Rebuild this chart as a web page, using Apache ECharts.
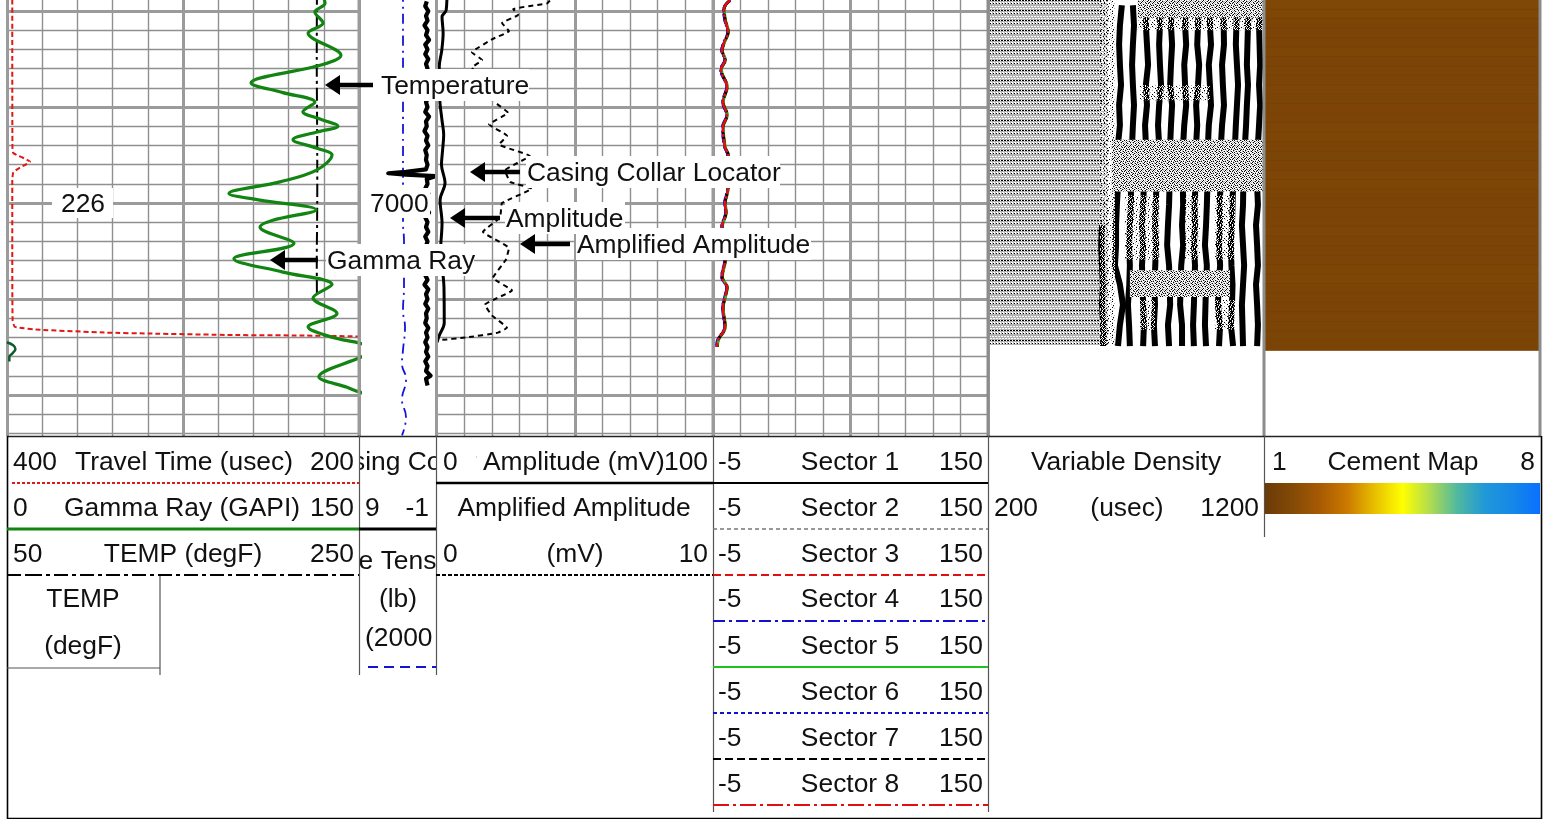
<!DOCTYPE html>
<html><head><meta charset="utf-8">
<style>html,body{margin:0;padding:0;background:#fff}#c{width:1554px;height:819px}</style>
<script src="https://cdn.jsdelivr.net/npm/echarts@6/dist/echarts.min.js"></script>
</head><body><div id="c"></div>
<script>
// ---------- data: [value, depth(ft)] ----------
const gammaRay=[[134,6978],[135.5,6979.2],[131.2,6980.1],[134.7,6981.25],[128.3,6982.3],[142.3,6984.6],[134.2,6985.6],[104,6987.5],[117.6,6988.5],[131.2,6989.5],[126.1,6990.5],[132.1,6991.15],[141,6992],[132.1,6992.6],[121.9,6993.4],[132.1,6994.3],[138.5,6995],[131.7,6996.6],[116.3,6997.8],[94.6,6999],[107.8,6999.7],[131.7,7000.7],[113.3,7001.8],[107.8,7002.5],[122.3,7004.2],[96.7,7005.8],[117.6,7007.2],[138.5,7008.5],[130.4,7009.9],[140.6,7011.5],[128.3,7012.9],[138.9,7014],[150.4,7014.6],[158,7015.3],[150.4,7016.1],[132.9,7018.1],[144.9,7019.2],[150.4,7019.7],[158,7020.3]];
const gammaWrap=[[0,7014.5],[2.5,7014.8],[3.6,7015.2],[2.2,7015.7],[1,7016],[1,7016.5]];
const travelTime=[[397,6978],[397,6985],[396.9,6994.2],[396.4,6994.8],[386.9,6995.7],[392.6,6996.3],[396.4,6996.8],[397,6997.6],[397,7005],[396.8,7012.2],[395.5,7012.9],[381.3,7013.2],[343.2,7013.5],[318.8,7013.6],[271.6,7013.75],[233.6,7013.8],[199.5,7013.9]];
const temperature=[[226.1,6978],[226,6985],[226.2,6992],[226.3,6998],[226.2,7002],[226,7006],[226.1,7009.8]];
const tension=[[857,6978],[857,6990],[857,7002],[831,7004],[831,7008.7],[857,7011.2],[805,7012.9],[857,7015.3],[883,7016.7],[779,7018.4],[883,7020.5],[779,7022.3],[883,7024.2]];
const ccl=[[0.2,6979],[0.4,6979.5],[0,6980],[0.3,6980.5],[0.1,6981],[0.5,6981.5],[0.1,6982],[0.3,6982.5],[-0.1,6983],[0.4,6983.5],[0.1,6984],[0.4,6984.5],[0,6985],[0.3,6985.5],[0.1,6986],[0.4,6986.5],[0,6987],[0.2,6987.5],[0.1,6988],[0.4,6988.5],[0,6989],[0.3,6989.5],[0.1,6990],[0.4,6990.5],[-0.1,6991],[0.3,6991.5],[0.2,6992],[0.5,6992.5],[0.1,6993],[0.3,6993.5],[0,6994],[0.4,6994.5],[0.2,6995],[0.3,6995.5],[0.1,6996],[0.3,6996.5],[2.9,6996.75],[5.2,6996.9],[2.9,6997.05],[-0.9,6997.2],[0.2,6997.5],[0.1,6998],[0.4,6998.5],[0,6999],[0.3,6999.5],[0.1,7000],[0.3,7000.5],[-0.1,7001],[0.4,7001.5],[0.1,7002],[0.3,7002.5],[0,7003],[0.4,7003.5],[0.1,7004],[0.3,7004.5],[0,7005],[0.4,7005.5],[0.1,7006],[0.3,7006.5],[0,7007],[0.4,7007.5],[0.1,7008],[0.5,7008.5],[0,7009],[0.3,7009.5],[0.1,7010],[0.4,7010.5],[0,7011],[0.3,7011.5],[0.2,7012],[0.4,7012.5],[0,7013],[0.3,7013.5],[0.1,7014],[0.4,7014.5],[0.1,7015],[0.3,7015.5],[0,7016],[0.4,7016.5],[0.1,7017],[0.3,7017.5],[-0.3,7018],[0.3,7018.3],[0.1,7019]];
const amplitude=[[3.8,6978],[3.5,6979.9],[2,6980.6],[2.4,6982.3],[1.9,6984.1],[1,6985.8],[1.2,6989.3],[2,6991.4],[2.6,6992.9],[2.2,6994.5],[1.8,6996],[3.1,6997.9],[1.3,6999.7],[2,7002.1],[1.5,7004.9],[2,7006.5],[2.7,7008.8],[2.8,7012.5],[1,7013.8],[0.2,7014.5]];
const amplified=[[4.1,6978.9],[4,6979.2],[2.77,6979.8],[2.95,6980.4],[2.37,6981.25],[2.62,6982.1],[2.04,6982.9],[1.28,6984.3],[1.65,6985.1],[1.28,6985.9],[1.93,6987.7],[2.12,6989.5],[2.59,6990.6],[1.9,6991.8],[2.55,6993],[2.26,6993.9],[3.38,6995.1],[2.48,6996.6],[2.66,6997.8],[3.45,6998.5],[2.37,7000],[2.3,7001.5],[1.68,7003],[2.62,7004.7],[2.51,7005.9],[2.04,7007.8],[2.73,7009.1],[1.75,7010.6],[2,7011.7],[2.55,7013],[2.22,7013.5],[1.1,7014],[0.05,7014.3]];
const sectorDepths=[6978.9,6979.8,6980.9,6982.2,6983.3,6984.1,6985.1,6986.1,6987.9,6989.5,6990.8,6992.1,6994.2,6995,6996.8,6998.4,7000,7001,7002.5,7004.2,7005.9,7007.7,7008.8,7009.8,7010.9,7012.9,7014.3,7015];
const sector1=[4.4,1.1,1.9,3.4,1.3,0.2,1.7,-0.4,2.8,0.7,2.8,0.7,1.7,3.4,3.1,3.4,1.9,2.2,0.2,1.4,1.9,0.2,2.8,1.9,0.7,1.7,-2.1,-2.6];
const sector2=[4.5,1.3,1.7,3.3,1.4,0.3,1.6,-0.3,2.7,0.8,2.7,0.8,1.9,3.3,2.9,3.3,1.7,2.1,0.3,1.6,1.7,0.3,2.7,1.7,0.8,1.9,-2,-2.5];
const sector3=[4.7,1.1,1.8,3.6,1.1,0,1.9,-0.6,3,0.5,3,0.5,1.7,3.6,3.1,3.6,1.9,2.4,0,1.4,1.9,0,3,1.9,0.5,1.7,-2.3,-2.8];
const sector4=[4.8,0.9,1.5,3.2,0.9,-0.2,1.5,-0.8,2.6,0.3,2.6,0.3,1.5,3.2,2.7,3.2,1.5,2,-0.2,1.2,1.5,-0.2,2.6,1.5,0.3,1.5,-2.6,-3.1];
const sector5=[4.3,1.5,2.1,3.8,1.5,0.4,2.1,-0.2,3.2,0.9,3.2,0.9,2.1,3.8,3.3,3.8,2.1,2.6,0.4,1.8,2.1,0.4,3.2,2.1,0.9,2.1,-1.9,-2.4];
const sector6=[4.9,1,1.6,3.3,1,-0.1,1.6,-0.7,2.7,0.4,2.7,0.4,1.6,3.3,2.8,3.3,1.6,2.1,-0.1,1.3,1.6,-0.1,2.7,1.6,0.4,1.6,-2.4,-2.9];
const sector7=[4.5,1.3,1.9,3.6,1.3,0.2,1.9,-0.4,3,0.7,3,0.7,1.9,3.6,3.1,3.6,1.9,2.4,0.2,1.6,1.9,0.2,3,1.9,0.7,1.9,-2.1,-2.6];
const sector8=[4.6,1.2,1.8,3.5,1.2,0.1,1.8,-0.5,2.9,0.6,2.9,0.6,1.8,3.5,3,3.5,1.8,2.3,0.1,1.5,1.8,0.1,2.9,1.8,0.6,1.8,-2.2,-2.7];
// Variable density: black wave fronts, usec per depth knot
const vdlDepths=[6979.4,6981.5,6983.5,6985.6,6987.7,6989.8,6991.9,6993.9,6996,6998.1,7000.2,7002.3,7004.4,7006.5,7008.5,7010.6,7012.7,7014.9];
const vdlFront0=[null,null,null,null,null,null,null,null,null,null,null,613,610,613,616,613,617,617];
const vdlFront1=[685,678,675,678,682,675,678,671,667,671,667,664,664,660,678,689,678,671];
const vdlFront2=[725,729,725,722,725,729,725,722,720,718,718,714,711,714,712,707,711,714];
const vdlFront3=[776,772,776,780,772,776,769,772,768,765,762,758,762,758,760,762,765,762];
const vdlFront4=[827,823,820,823,827,820,816,820,815,810,808,805,809,806,803,805,801,805];
const vdlFront5=[866,863,867,863,860,867,863,860,862,858,856,852,849,856,858,860,852,856];
const vdlFront6=[916,914,918,911,914,918,911,907,910,906,907,903,907,900,898,896,903,903];
const vdlFront7=[964,961,958,965,961,954,958,954,956,952,948,950,946,950,948,946,943,946];
const vdlFront8=[1006,1004,1008,1000,1004,1008,1000,997,999,995,993,990,986,993,990,988,986,990];
const vdlFront9=[1051,1054,1055,1048,1051,1055,1048,1044,1046,1042,1040,1041,1037,1041,1036,1033,1041,1037];
const vdlFront10=[1102,1100,1098,1102,1106,1102,1098,1095,1092,1088,1086,1084,1080,1082,1086,1084,1080,1088];
const vdlFront11=[1146,1142,1140,1138,1142,1138,1135,1131,1127,1125,1124,1120,1124,1128,1124,1120,1122,1124];
const vdlFront12=[1186,1182,1184,1186,1182,1186,1182,1178,1177,1175,1178,1171,1175,1178,1171,1175,1178,1175];
// [usecFrom, usecTo, depthFrom, depthTo]
const vdlGrayZone=[[200,635,6978,7014.9]];
const vdlNoise=[[606,660,6978,7014.9],[743,1200,6980.7,6982],[751,1004,6987.7,6989.3],[696,823,6999.2,7005.9],[914,968,6999.2,7005.9],[1022,1095,6999.2,7005.9],[751,805,7010.1,7013.2],[1022,1095,7010.1,7013.2]];
const vdlDenseNoise=[[743,1200,6978,6980.7],[649,1200,6993.4,6998.8],[714,1077,7007,7009.8]];
const cementDepths=['6979','6980','6981','6982','6983','6984','6985','6986','6987','6988','6989','6990','6991','6992','6993','6994','6995','6996','6997','6998','6999','7000','7001','7002','7003','7004','7005','7006','7007','7008','7009','7010','7011','7012','7013','7014','7015'];
const cementValues=[1.6,1.56,1.5,1.48,1.5,1.52,1.5,1.46,1.5,1.52,1.48,1.5,1.5,1.54,1.52,1.5,1.48,1.5,1.52,1.54,1.5,1.48,1.5,1.5,1.52,1.5,1.48,1.5,1.54,1.52,1.5,1.48,1.5,1.5,1.48,1.46,1.44];
const cementScale=['#6b3a08','#834a06','#a85a03','#cc7a00','#e8c000','#ffff00','#b0dc50','#50b8a0','#2098d8','#1588e8','#0a70ff'];
const lightDepths=[6980,6982,6984,6986,6988,6990,6992,6994,6996,6998,7000,7002,7004,7006,7008,7010,7012,7014,7016,7018,7020,7022,7024];
const heavyDepths=[6980,6990,7000,7010,7020];
const heavyDivisions=[0,5,10];

// ---------- layout ----------
const H=436, DMIN=6978.85, DMAX=7024.27;
const font='26.4px "Liberation Sans", Arial, sans-serif';
const grids=[
 {left:7,top:0,width:352,height:H},
 {left:359,top:0,width:77,height:H},
 {left:436.5,top:0,width:276.5,height:H},
 {left:713,top:0,width:275,height:H},
 {left:988,top:0,width:276,height:345},
 {left:1265,top:0,width:275,height:350}
];
const gridLine={show:true,lineStyle:{color:'#8f8f8f',width:1.4}};
const divAxis=g=>({type:'value',gridIndex:g,min:0,max:10,interval:1,axisLine:{show:false},axisTick:{show:false},axisLabel:{show:false},splitLine:gridLine});
const hidX=(g,min,max,inv)=>({type:'value',gridIndex:g,min,max,inverse:!!inv,show:false,splitLine:{show:false}});
const xAxes=[divAxis(0),hidX(0,0,150),hidX(0,200,400,true),hidX(0,50,250),
 hidX(1,-1,9,true),hidX(1,0,2000,true),
 divAxis(2),hidX(2,0,100),hidX(2,0,10),
 divAxis(3),hidX(3,-5,150),
 hidX(4,200,1200),
 {type:'category',gridIndex:5,data:['Cement Map'],show:false}];
const depthAxis=(g,max)=>({type:'value',gridIndex:g,min:DMIN,max:max||DMAX,inverse:true,show:false,splitLine:{show:false}});
const yAxes=[depthAxis(0),depthAxis(1),depthAxis(2),depthAxis(3),depthAxis(4,DMIN+345*(DMAX-DMIN)/H),
 {type:'category',gridIndex:5,data:cementDepths,inverse:true,show:false}];

// ---------- series ----------
const curve=(name,data,x,y,color,width,dash,smooth,z)=>({name,type:'line',data,xAxisIndex:x,yAxisIndex:y,showSymbol:false,symbol:'none',silent:true,smooth:smooth===undefined?0.35:smooth,z:z||5,clip:true,lineStyle:{color,width,type:dash||'solid',cap:'butt',join:'round'}});
const heavy=(x,y)=>({type:'line',data:[],xAxisIndex:x,yAxisIndex:y,silent:true,z:1,symbol:'none',
 markLine:{silent:true,symbol:'none',animation:false,label:{show:false},lineStyle:{color:'#9b9b9b',width:3,type:'solid'},
  data:lightDepths.map(d=>({yAxis:d,lineStyle:{color:'#8f8f8f',width:1.4,type:'solid'}})).concat(heavyDepths.map(d=>({yAxis:d})),heavyDivisions.map(d=>({xAxis:d})))}});
const bitmapPattern=(rows,map)=>{const c=document.createElement('canvas');c.width=rows[0].length;c.height=rows.length;const t=c.getContext('2d');
 rows.forEach((r,j)=>[...r].forEach((ch,i)=>{if(map[ch]){t.fillStyle=map[ch];t.fillRect(i,j,1,1);}}));return {image:c,repeat:'repeat'};};
const colors={k:'#000',w:'#fff',g:'#b4b4b4'};
const grayTile=bitmapPattern(['kwk','ggg','wwg','kwg','ggg','ggg','wgw','ggg','wwg','ggg'],colors);
const noiseTile=bitmapPattern(['w.k.w.g..w.k','.w.g.w..k.w.','k.w..w.g.w.w','.g.w.k..w.g.','w..k.w.g..w.','.w.w...w.k.w','g.w.k.w..g..','.w..g.w.k.w.','w.k.w...w.g.','..w.g.k.w..w','k.w...w.g.w.','.g.w.w..k.w.'],colors);
const denseTile=bitmapPattern(['wgwkwgwwkwgw','gwkwgwgkwwkg','wkwgwkwwgkwg','kwgwwgkwkwgw','wgwkgwwgwwkw','gkwwgkwkwgwk','wwgwkwgwwkgw','kwgkwwgkwgwg','wgwwkgwwkwkw','gkwgwwkgwgwg','wwkwgkwwgwkw','gwgwwgwkwgwk'],colors);
const rectSeries=(data,fill,z)=>({type:'custom',xAxisIndex:11,yAxisIndex:4,silent:true,z,data,encode:{x:[0,1],y:[2,3]},clip:true,
 renderItem:(p,api)=>{const a=api.coord([api.value(0),api.value(2)]),b=api.coord([api.value(1),api.value(3)]);
  return {type:'rect',shape:{x:a[0],y:a[1],width:b[0]-a[0],height:b[1]-a[1]},style:{fill}};}});
const vdlFronts=[vdlFront0,vdlFront1,vdlFront2,vdlFront3,vdlFront4,vdlFront5,vdlFront6,vdlFront7,vdlFront8,vdlFront9,vdlFront10,vdlFront11,vdlFront12];
const sectors=[[sector1,'#000','solid'],[sector2,'#777','dashed'],[sector3,'#e01010','dashed'],[sector4,'#1010d0',[8,3,2,3]],[sector5,'#20c020','solid'],[sector6,'#1010d0','dashed'],[sector7,'#000','dashed'],[sector8,'#e01010',[14,2,3,2]]];
const series=[
 heavy(0,0),heavy(6,2),heavy(9,3),
 curve('Travel Time',travelTime,2,0,'#e01818',2,[5,3],0.15),
 curve('TEMP',temperature,3,0,'#000',2,[13,4,3,4]),
 curve('Gamma Ray',gammaRay,1,0,'#118411',3.2),
 curve('Gamma Ray wrap',gammaWrap,1,0,'#0c5c2c',2.5),
 curve('Line Tension',tension,5,1,'#1414d8',1.8,[10,5,2,5],0.5),
 curve('Casing Collar',ccl,4,1,'#000',4.2,'solid',0),
 curve('Amplitude',amplitude,7,2,'#000',3),
 curve('Amplified Amplitude',amplified,8,2,'#000',2,[5,4],0.1),
 ...sectors.map((s,i)=>curve('Sector '+(i+1),s[0].map((v,k)=>[v,sectorDepths[k]]),10,3,s[1],2.6,s[2],0.4,6+i)),
 rectSeries(vdlGrayZone,grayTile,2),
 ...vdlFronts.map((f,i)=>curve('VDL '+i,f.map((v,k)=>[v,vdlDepths[k]]),11,4,'#000',6,'solid',0,3)),
 rectSeries(vdlNoise,noiseTile,4),
 rectSeries(vdlDenseNoise,denseTile,4),
 {type:'heatmap',name:'Cement Map',xAxisIndex:12,yAxisIndex:5,silent:true,progressive:0,
  itemStyle:{borderColor:'#7b4100',borderWidth:1},
  data:cementValues.map((v,i)=>[0,i,v]),emphasis:{disabled:true}}
];

// ---------- graphics: header table, annotations ----------
const g=[];
const line=(x1,y1,x2,y2,stroke,lineWidth,lineDash,z)=>g.push({type:'line',silent:true,z:z||30,shape:{x1,y1,x2,y2},style:{stroke,lineWidth,lineDash:lineDash||null,fill:null}});
const text=(t,x,y,align,z)=>g.push({type:'text',silent:true,z:z||40,style:{text:t,x,y:y+1.5,font,fill:'#111',align:align||'left',verticalAlign:'middle',textAlign:align||'left',textVerticalAlign:'middle'}});
const white=(x,y,w,h,z)=>g.push({type:'rect',silent:true,z:z||20,shape:{x,y,width:w,height:h},style:{fill:'#fff',stroke:null}});
// clipped centre column titles
text('Casing Collar',397.5,461,'center',10); text('Line Tension',397.5,560,'center',10);
white(300,442,59,38,12); white(436.5,442,40,38,12); white(300,540,59,32,12); white(436.5,540,40,32,12);
// track frame
[988,1264,1540].forEach(x=>line(x,0,x,436,'#8c8c8c',3,null,25));
[359,436.5,713].forEach(x=>line(x,0,x,436,'#9b9b9b',3,null,25));
// table rules
line(7,436.5,1541,436.5,'#222',1.5);
line(7.5,436,7.5,819,'#000',1.6); line(1541.5,436,1541.5,819,'#000',1.6); line(7,818.5,1542,818.5,'#000',1.5);
[[359.5,675],[436.5,675],[713.5,812],[988.5,812],[1264.5,537]].forEach(v=>line(v[0],436,v[0],v[1],'#555',1.2));
line(160,575,160,675,'#555',1.2); line(7,668,160,668,'#555',1.2);
line(12,483,359,483,'#e01818',2,[3,2]); line(7,529,359,529,'#118411',3); line(28,575,359,575,'#000',2,[14,4,4,4]); line(7,575,28,575,'#000',2,[14,4]);
line(359,529,436,529,'#000',3); line(368,667,436,667,'#1414d8',2,[10,6]);
line(436,483,713,483,'#000',2.6); line(436,575,713,575,'#000',2,[4,2]);
line(713,483,988,483,'#000',1.8); line(713,529,988,529,'#777',1.6,[4,3]); line(713,575,988,575,'#e01010',2,[8,4]);
line(713,621,988,621,'#1010d0',2,[12,4,3,4]); line(713,667,988,667,'#20c020',2); line(713,713,988,713,'#1010d0',2,[4,3]);
line(713,759,988,759,'#000',2,[8,4]); line(713,805,988,805,'#e01010',2,[16,4,3,4]);
// cement colour scale
g.push({type:'rect',silent:true,z:30,shape:{x:1265,y:483,width:275,height:31},style:{stroke:null,fill:{type:'linear',x:0,y:0,x2:1,y2:0,colorStops:cementScale.map((color,i)=>({offset:i/(cementScale.length-1),color}))}}});
// header text
text('400',13,461); text('Travel Time (usec)',75,461); text('200',354,461,'right');
text('0',13,507); text('Gamma Ray (GAPI)',64,507); text('150',354,507,'right');
text('50',13,553); text('TEMP (degF)',183,553,'center'); text('250',354,553,'right');
text('TEMP',83,598,'center'); text('(degF)',83,645,'center');
text('9',365,507); text('-1',429,507,'right'); text('(lb)',398,598,'center'); text('(2000',365,637);
text('0',443,461); text('Amplitude (mV)',483,461); text('100',708,461,'right');
text('Amplified Amplitude',574,507,'center'); text('0',443,553); text('(mV)',575,553,'center'); text('10',708,553,'right');
[461,507,553,598,645,691,737,783].forEach((y,i)=>{text('-5',718,y);text('Sector '+(i+1),850,y,'center');text('150',983,y,'right');});
text('Variable Density',1126,461,'center'); text('200',994,507); text('(usec)',1127,507,'center'); text('1200',1259,507,'right');
text('1',1272,461); text('Cement Map',1403,461,'center'); text('8',1535,461,'right');
// annotations: [label, boxLeft, boxRight, y, arrowTail, arrowTip]
const notes=[['Temperature',381,528,85,373,325],['Casing Collar Locator',527,779,172,520,470],['Amplitude',506,624,218,500,450],['Amplified Amplitude',577,810,244,570,520],['Gamma Ray',327,473,260,318,270]];
notes.forEach(n=>{white(n[1]-1,n[3]-16,n[2]-n[1]+2,32,50);text(n[0],n[1],n[3],'left',55);
 line(n[4],n[3],n[5]+10,n[3],'#000',4.5,null,56);
 g.push({type:'polygon',silent:true,z:56,shape:{points:[[n[5],n[3]],[n[5]+15,n[3]-10],[n[5]+15,n[3]+10]]},style:{fill:'#000'}});});
white(52,188,61,30,50); text('226',83,203,'center',55);
white(368,188,62,30,50); text('7000',370,203,'left',55);

const chart=echarts.init(document.getElementById('c'),null,{renderer:'canvas',width:1554,height:819});
chart.setOption({animation:false,backgroundColor:'#fff',grid:grids,xAxis:xAxes,yAxis:yAxes,series,tooltip:{show:false},
 visualMap:{type:'continuous',show:false,min:1,max:8,seriesIndex:series.length-1,inRange:{color:cementScale}},
 graphic:{elements:g}});
</script></body></html>
